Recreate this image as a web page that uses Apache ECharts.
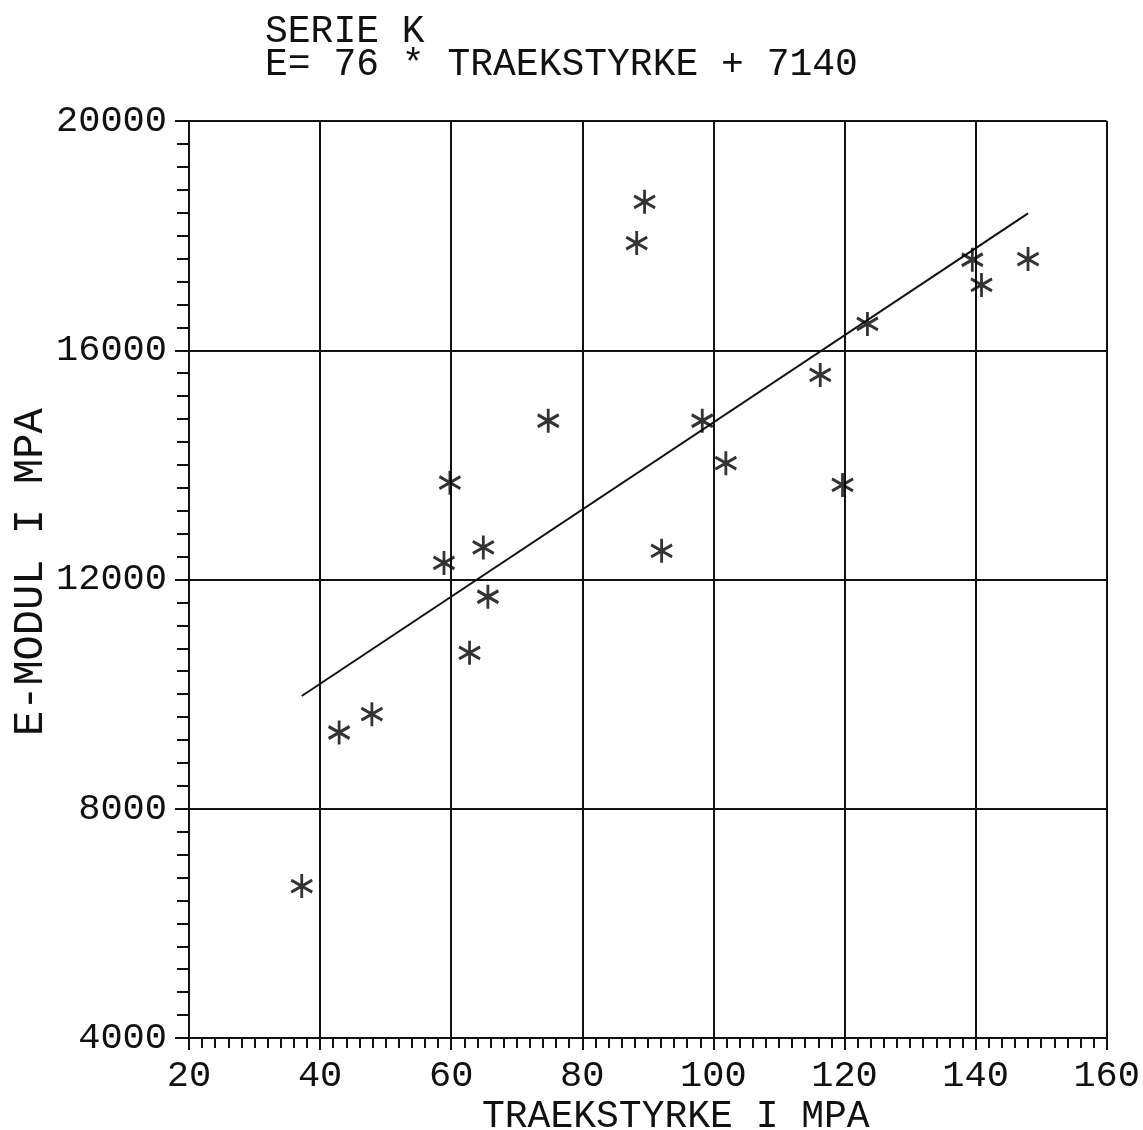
<!DOCTYPE html>
<html>
<head>
<meta charset="utf-8">
<title>SERIE K</title>
<script src="https://cdn.jsdelivr.net/npm/echarts@6/dist/echarts.min.js"></script>
<style>
  html, body { margin: 0; padding: 0; background: #fff; }
  #chart { width: 1143px; height: 1130px; }
</style>
</head>
<body>
<div id="chart"></div>
<script>
// Tensile strength (MPa) per specimen
const traekstyrke = [37.2, 42.9, 47.9, 58.9, 59.8, 62.8, 64.9, 65.6, 74.8, 88.3, 89.5, 92.1,
                     98.3, 101.9, 116.3, 119.7, 123.5, 139.5, 140.9, 148.0];
// Modulus of elasticity (MPa) per specimen
const eModul = [6650, 9330, 9650, 12290, 13690, 10720, 12560, 11700, 14770, 17870, 18590, 12500,
                14770, 14030, 15570, 13650, 16460, 17580, 17140, 17590];
// Fitted line E = a * traekstyrke + b
const slope = 76;
const intercept = 7140;
// Axis ticks
const xTicks = [20, 40, 60, 80, 100, 120, 140, 160];
const yTicks = [4000, 8000, 12000, 16000, 20000];

const ink = '#111111';
const font = '"Liberation Mono", "DejaVu Sans Mono", monospace';

const points = traekstyrke.map((x, i) => [x, eModul[i]]);
const xMin = Math.min(...traekstyrke), xMax = Math.max(...traekstyrke);
const fitLine = [[xMin, slope * xMin + intercept], [xMax, slope * xMax + intercept]];

// six-armed asterisk marker
const asterisk = 'path://M0,-10L0,10M-8.66,-5L8.66,5M-8.66,5L8.66,-5';

const chart = echarts.init(document.getElementById('chart'), null, { renderer: 'canvas' });
chart.setOption({
  backgroundColor: '#ffffff',
  animation: false,
  grid: { left: 189, top: 121, right: 35, bottom: 92, containLabel: false },
  graphic: [
    { type: 'text', left: 265, top: 13, style: { text: 'SERIE K', font: '38px ' + font, fill: ink } },
    { type: 'text', left: 265, top: 46, style: { text: 'E= ' + slope + ' * TRAEKSTYRKE + ' + intercept, font: '38px ' + font, fill: ink } },
    { type: 'text', left: 482, top: 1098, style: { text: 'TRAEKSTYRKE I MPA', font: '38px ' + font, fill: ink } },
    { type: 'text', x: 10, y: 736, rotation: Math.PI / 2, style: { text: 'E-MODUL I MPA', font: '42px ' + font, fill: ink } }
  ],
  xAxis: {
    type: 'value',
    min: xTicks[0], max: xTicks[xTicks.length - 1], interval: xTicks[1] - xTicks[0],
    axisLine: { show: true, onZero: false, lineStyle: { color: ink, width: 2 } },
    axisTick: { show: true, inside: false, length: 12, lineStyle: { color: ink, width: 2 } },
    minorTick: { show: true, splitNumber: 10, length: 10, lineStyle: { color: ink, width: 2 } },
    splitLine: { show: true, lineStyle: { color: ink, width: 2 } },
    axisLabel: { color: ink, fontFamily: font, fontSize: 37, margin: 20, formatter: v => String(v) }
  },
  yAxis: {
    type: 'value',
    min: yTicks[0], max: yTicks[yTicks.length - 1], interval: yTicks[1] - yTicks[0],
    axisLine: { show: true, onZero: false, lineStyle: { color: ink, width: 2 } },
    axisTick: { show: true, inside: false, length: 14, lineStyle: { color: ink, width: 2 } },
    minorTick: { show: true, splitNumber: 10, length: 12, lineStyle: { color: ink, width: 2 } },
    splitLine: { show: true, lineStyle: { color: ink, width: 2 } },
    axisLabel: { color: ink, fontFamily: font, fontSize: 37, margin: 22, formatter: v => String(v) }
  },
  series: [
    {
      type: 'line',
      data: fitLine,
      symbol: 'none',
      lineStyle: { color: ink, width: 2 },
      z: 3
    },
    {
      type: 'scatter',
      data: points,
      symbol: asterisk,
      symbolSize: [21, 24],
      itemStyle: { color: 'rgba(0,0,0,0)', borderColor: '#000000', borderWidth: 3 },
      z: 4
    }
  ]
});
</script>
</body>
</html>
